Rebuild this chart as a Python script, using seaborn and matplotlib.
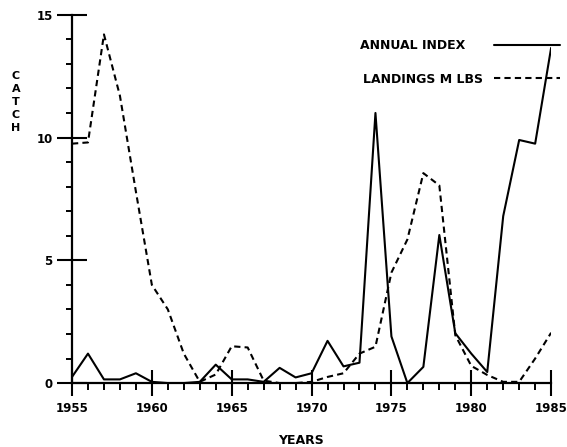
import pandas as pd
import numpy as np
import matplotlib
matplotlib.use("Agg")
import matplotlib.pyplot as plt
import seaborn as sns
from matplotlib.ticker import MultipleLocator

years = list(range(1955, 1986))
annual_index = [0.25, 1.2, 0.15, 0.15, 0.4, 0.05, 0.0, 0.0, 0.05, 0.75,
                0.15, 0.15, 0.05, 0.62, 0.23, 0.4, 1.72, 0.68, 0.83, 11.0,
                1.9, 0.0, 0.66, 6.03, 2.03, 1.2, 0.45, 6.8, 9.9, 9.75, 13.65]
landings = [9.75, 9.8, 14.2, 11.7, 7.8, 4.0, 3.0, 1.2, 0.05, 0.35,
            1.5, 1.45, 0.1, 0.0, 0.0, 0.05, 0.25, 0.4, 1.2, 1.48,
            4.5, 5.85, 8.55, 8.05, 1.95, 0.7, 0.33, 0.05, 0.05, 1.0, 2.05]
series_names = ["ANNUAL INDEX", "LANDINGS M LBS"]
x_ticks = [1955, 1960, 1965, 1970, 1975, 1980, 1985]
y_ticks = [0, 5, 10, 15]

df = pd.DataFrame({
    "year": years * 2,
    "value": annual_index + landings,
    "series": [series_names[0]] * len(years) + [series_names[1]] * len(years),
})

sns.set_style("white")
plt.rcParams["font.family"] = ["DejaVu Sans"]
plt.rcParams["font.weight"] = "bold"
plt.rcParams["text.color"] = "black"

fig = plt.figure(figsize=(5.67, 4.47), dpi=100)
ax = fig.add_axes([0.127, 0.143, 0.845, 0.824])

sns.lineplot(data=df, x="year", y="value", style="series", style_order=series_names,
             dashes={series_names[0]: "", series_names[1]: (3, 2)},
             color="black", linewidth=1.5, estimator=None, errorbar=None,
             sort=False, legend=False, ax=ax)

ax.set_xlim(1955, 1985)
ax.set_ylim(0, 15)
ax.set_xticks(x_ticks)
ax.set_yticks(y_ticks)
ax.set_xticklabels([str(t) for t in x_ticks])
ax.set_yticklabels([str(t) for t in y_ticks])
ax.xaxis.set_minor_locator(MultipleLocator(1))
ax.yaxis.set_minor_locator(MultipleLocator(1))

for side in ["top", "right"]:
    ax.spines[side].set_visible(False)
for side in ["left", "bottom"]:
    ax.spines[side].set_linewidth(1.6)
    ax.spines[side].set_color("black")

ax.tick_params(axis="x", which="major", direction="inout", length=19, width=1.5,
               pad=4, labelsize=8.5, colors="black", bottom=True)
ax.tick_params(axis="x", which="minor", direction="out", length=5, width=1.4,
               colors="black", bottom=True)
ax.tick_params(axis="y", which="major", direction="inout", length=22, width=1.5,
               pad=3, labelsize=8.5, colors="black", left=True)
ax.tick_params(axis="y", which="minor", direction="out", length=4.5, width=1.4,
               colors="black", left=True)

ax.set_xlabel("")
ax.set_ylabel("")
fig.text(0.531, 0.014, "YEARS", ha="center", va="center", fontsize=9, fontweight="bold")
fig.text(0.028, 0.772, "C\nA\nT\nC\nH", ha="center", va="center", fontsize=8,
         fontweight="bold", linespacing=1.35)

handles = ax.get_lines()[:2]
ax.legend(handles, ["ANNUAL INDEX    ", "LANDINGS M LBS"], loc="upper right",
          bbox_to_anchor=(0.988, 0.913), bbox_transform=fig.transFigure,
          markerfirst=False, frameon=False, fontsize=9, handlelength=5.3,
          handletextpad=0.9, labelspacing=1.65, borderpad=0, borderaxespad=0)

fig.savefig("out.png", dpi=100)
